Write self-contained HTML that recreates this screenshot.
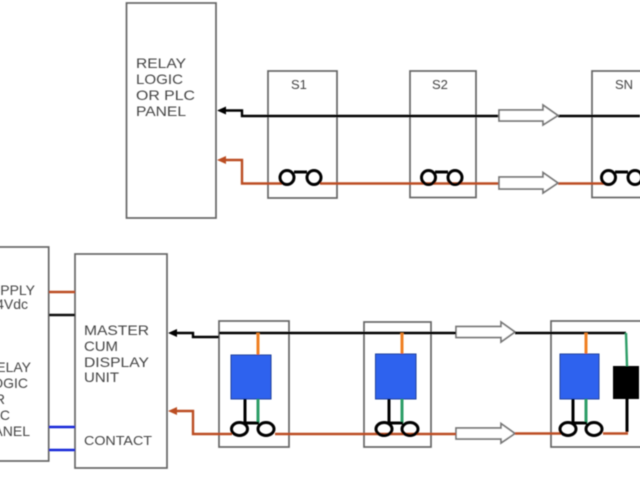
<!DOCTYPE html>
<html>
<head>
<meta charset="utf-8">
<style>
html,body{margin:0;padding:0;background:#fff;width:640px;height:480px;overflow:hidden}
svg{display:block}
text{font-family:"Liberation Sans",Arial,sans-serif;fill:#444;font-size:14px}
</style>
</head>
<body>
<svg width="640" height="480" viewBox="0 0 640 480" xmlns="http://www.w3.org/2000/svg">
<defs><filter id="b" x="-5%" y="-5%" width="110%" height="110%"><feGaussianBlur stdDeviation="0.45"/></filter></defs>
<g filter="url(#b)">
<g fill="none" stroke="#666" stroke-width="1.7">
<rect x="126.5" y="3" width="89.5" height="215"/>
<rect x="268" y="71" width="69" height="127"/>
<rect x="410" y="71" width="66" height="126.500"/>
<rect x="592" y="71" width="60" height="126.500"/>
<rect x="-10" y="247" width="58.700" height="214"/>
<rect x="75" y="254" width="92" height="214"/>
<rect x="219" y="321" width="70" height="126"/>
<rect x="364" y="322" width="67" height="125"/>
<rect x="551" y="321" width="100" height="126"/>
</g>

<!-- upper lines -->
<g fill="none" stroke-linejoin="miter">
<path d="M224 110.500H242V116H500M558 116H640" stroke="#000" stroke-width="2.400"/>
<path d="M224 160H242V183.500H282M320 183.500H500M558 183.500H604" stroke="#bb4d22" stroke-width="2.400"/>
</g>
<path d="M217 110.500L226 106.500V114.500Z" fill="#000"/>
<path d="M217 160L226 156V164Z" fill="#bb4d22"/>
<g fill="none" stroke="#000" stroke-width="3">
<circle cx="287" cy="177.500" r="7"/>
<circle cx="314" cy="177.500" r="7"/>
<path d="M294 172H307"/>
<circle cx="428.500" cy="177.500" r="7"/>
<circle cx="455" cy="177.500" r="7"/>
<path d="M435 172H448"/>
<circle cx="608.500" cy="177.500" r="7"/>
<circle cx="635" cy="177.500" r="7"/>
<path d="M615 172H628"/>
</g>

<!-- hollow arrows -->
<g fill="#fff" stroke="#777" stroke-width="1.700">
<path d="M499 110H543V105L558 115.500L543 125V121H499Z"/>
<path d="M499 177H543V172.500L558 183L543 193V189H499Z"/>
<path d="M456 326.500H501V322L515 332L501 342V337.500H456Z"/>
<path d="M456 428H501V423.500L515 433.500L501 443V439H456Z"/>
</g>

<!-- stubs -->
<path d="M49 292H75" stroke="#bb4d22" stroke-width="2.400"/>
<path d="M49 315H75" stroke="#111" stroke-width="2.400"/>
<path d="M49 427H75M49 450H75" stroke="#1428d8" stroke-width="2.400"/>

<!-- lower lines -->
<g fill="none">
<path d="M175 333H193V337H219M219 333H456M515 333H626" stroke="#000" stroke-width="2.400"/>
<path d="M175 411H193V434H232M275 434H456M515 433.500H561M603 433.500H628" stroke="#bb4d22" stroke-width="2.400"/>
<path d="M626 333L627 366" stroke="#2f9e68" stroke-width="2.400"/>
</g>
<path d="M168 333L177 329V337Z" fill="#000"/>
<path d="M168 411L177 407V415Z" fill="#bb4d22"/>

<!-- relay units -->
<g stroke="#f08020" stroke-width="3">
<path d="M258 333V355M402 333V354M586 333V354"/>
</g>
<g fill="#2e62ee" stroke="#1f3c98" stroke-width="1">
<rect x="231" y="355" width="40" height="44"/>
<rect x="375.500" y="354" width="40.500" height="45"/>
<rect x="560" y="354" width="39" height="45"/>
</g>
<path d="M245 399V424M389 399V424M573 399V424M627 399V432" stroke="#000" stroke-width="3"/>
<path d="M258 399V423M402 399V423M586 399V423" stroke="#2f9e68" stroke-width="3"/>
<rect x="613" y="366" width="26" height="33" fill="#000"/>
<g fill="none" stroke="#000" stroke-width="3">
<ellipse cx="239.500" cy="429" rx="8" ry="6.500"/>
<ellipse cx="266" cy="429" rx="8" ry="6.500"/>
<path d="M246 423H259"/>
<ellipse cx="384" cy="429" rx="8" ry="6.500"/>
<ellipse cx="410" cy="429" rx="8" ry="6.500"/>
<path d="M390 423H403"/>
<ellipse cx="568" cy="429" rx="8" ry="6.500"/>
<ellipse cx="594" cy="429" rx="8" ry="6.500"/>
<path d="M574 423H587"/>
</g>

<!-- text -->
<text x="136" y="68" textLength="50" lengthAdjust="spacingAndGlyphs">RELAY</text>
<text x="136" y="84" textLength="47" lengthAdjust="spacingAndGlyphs">LOGIC</text>
<text x="136" y="100" textLength="59" lengthAdjust="spacingAndGlyphs">OR PLC</text>
<text x="136" y="116" textLength="50" lengthAdjust="spacingAndGlyphs">PANEL</text>
<text x="291" y="89" style="font-size:13px">S1</text>
<text x="432" y="89" style="font-size:13px">S2</text>
<text x="615" y="89" style="font-size:13px">SN</text>
<text x="35" y="295" text-anchor="end">SUPPLY</text>
<text x="28" y="309" text-anchor="end">24Vdc</text>
<text x="31" y="372" text-anchor="end">RELAY</text>
<text x="28" y="388" text-anchor="end">LOGIC</text>
<text x="5" y="404" text-anchor="end">OR</text>
<text x="10" y="420" text-anchor="end">PLC</text>
<text x="30" y="436" text-anchor="end">PANEL</text>
<text x="84" y="335" textLength="65" lengthAdjust="spacingAndGlyphs">MASTER</text>
<text x="84" y="351" textLength="34" lengthAdjust="spacingAndGlyphs">CUM</text>
<text x="84" y="367" textLength="65" lengthAdjust="spacingAndGlyphs">DISPLAY</text>
<text x="84" y="382" textLength="35" lengthAdjust="spacingAndGlyphs">UNIT</text>
<text x="84" y="445" textLength="68" lengthAdjust="spacingAndGlyphs" style="font-size:13px">CONTACT</text>
</g>
</svg>
</body>
</html>
